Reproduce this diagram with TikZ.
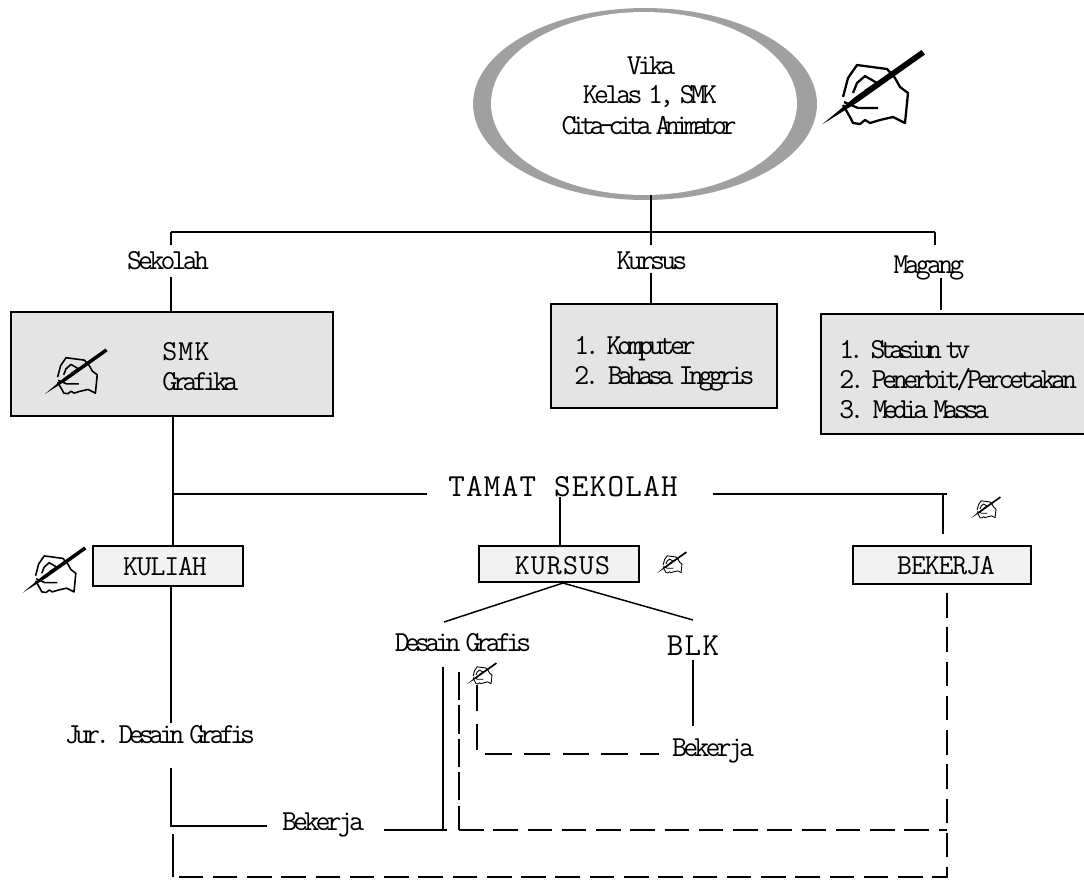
\documentclass[tikz,border=0pt]{standalone}
\usepackage{fontspec}
\setmainfont{Latin Modern Mono}
\newfontfamily\baseface[LetterSpace=-16.5,WordSpace=0.5]{Latin Modern Mono}
\newfontfamily\tightface[LetterSpace=-19,WordSpace=0.4]{Latin Modern Mono}
\newfontfamily\looseface[LetterSpace=-13,WordSpace=0.5]{Latin Modern Mono}
\newfontfamily\longface[LetterSpace=-15,WordSpace=0.3]{Latin Modern Mono}
\newfontfamily\wideface[LetterSpace=4]{Latin Modern Mono}
\newfontfamily\plainface[LetterSpace=-4]{Latin Modern Mono}
\usetikzlibrary{positioning,shapes.geometric}
\definecolor{ringgray}{HTML}{A0A0A0}
\definecolor{boxgray}{HTML}{E4E4E4}
\definecolor{tabgray}{HTML}{F2F2F2}

\begin{document}
\begin{tikzpicture}
    [%%%%%%%%%%%%%%%%%%%%%%%%%%%%%%
    x=0.02cm,y=-0.02cm,
    box/.style={rectangle,draw=black,line width=1pt,fill=boxgray,inner sep=0pt},
    tab/.style={box,fill=tabgray},
    label/.style={inner sep=0pt,font=\fontsize{16.5}{16.5}\baseface},
    tight/.style={inner sep=0pt,font=\fontsize{16.5}{16.5}\tightface},
    loose/.style={inner sep=0pt,font=\fontsize{16.5}{16.5}\looseface},
    long/.style={inner sep=0pt,font=\fontsize{16.5}{16.5}\longface},
    wide/.style={inner sep=0pt,font=\fontsize{16.5}{16.5}\wideface},
    plain/.style={inner sep=0pt,font=\fontsize{16.5}{16.5}\plainface},
    title/.style={inner sep=0pt,font=\fontsize{18.3}{18.3}\wideface},
    line/.style={line width=0.85pt},
    dashline/.style={line,dash pattern=on 14pt off 5.5pt},
    pics/handpen/.style={code={
        \fill (7.3,79.3) -- (40,52) -- (106.5,5) -- (110,9.5) -- (43,57) -- cycle;
        \draw[line join=round] (28,52) -- (33,33) -- (42,20) -- (72,24) -- (80,33) -- (85,42) -- (93,48)
            -- (90,78) -- (78,72) -- (65,75) -- (55,78) -- (50,75) -- (45,79) -- (38,78) -- (35,72) -- (28,60);
        \draw[line join=round] (38,48) -- (42,38) -- (50,31) -- (62,38) -- (50,46);
        \draw[line join=round] (29,57) -- (43,63) -- (63,63);
    }},
    ]%%%%%%%%%%%%%%%%%%%%%%%%%%%%%%

    \useasboundingbox (0,0) rectangle (1084,880);
    \clip (0,0) rectangle (1084,880);

    % vika
    \node[ellipse,fill=ringgray,minimum width=6.88cm,minimum height=3.84cm,inner sep=0pt] at (645,104) (vika_ring) {};
    \node[ellipse,fill=white,minimum width=6.12cm,minimum height=3.66cm,inner sep=0pt] at (644,103.5) (vika) {};
    \node[loose] at (651,66) (vika_name) {Vika};
    \node[loose] at (650,96) (vika_class) {Kelas 1, SMK};
    \node[tight] at (649,126) (vika_goal) {Cita-cita Animator};
    \pic[scale=1,line width=1.3pt] at (815,45) {handpen};

    % top branches
    \coordinate (top_left) at (171,232);
    \coordinate (top_mid) at (651,232);
    \coordinate (top_right) at (935,232);
    \draw[line] (651,195) -- (651,235);
    \draw[line,line width=1pt] (top_left) -- (top_right);

    % sekolah
    \node[loose] at (168,261) (sekolah) {Sekolah};
    \node[box,minimum width=6.44cm,minimum height=2.08cm] at (172,364) (smk) {};
    \node[wide,anchor=west] at (162,352) (smk_name) {SMK};
    \node[label,anchor=west] at (162,382) (smk_major) {Grafika};
    \pic[scale=0.61,line width=0.9pt] at (40.5,345.5) {handpen};
    \draw[line] (top_left) -- (171,245);
    \draw[line] (171,277) -- (171,311);

    % kursus
    \node[loose] at (652,261) (kursus) {Kursus};
    \node[box,minimum width=4.52cm,minimum height=2.08cm] at (664,356) (kursus_box) {};
    \node[long,anchor=west] at (574,349) (kursus_one) {1. Komputer};
    \node[label,anchor=west] at (574,379) (kursus_two) {2. Bahasa Inggris};
    \draw[line] (top_mid) -- (651,245);
    \draw[line] (651,273) -- (651,303);

    % magang
    \node[loose] at (929,268) (magang) {Magang};
    \node[box,minimum width=5.6cm,minimum height=2.4cm] at (961,374) (magang_box) {};
    \node[tight,anchor=west] at (839,350) (magang_one) {1. Stasiun tv};
    \node[long,anchor=west] at (839,380) (magang_two) {2. Penerbit/Percetakan};
    \node[label,anchor=west] at (839,410) (magang_three) {3. Media Massa};
    \draw[line] (top_right) -- (935,245);
    \draw[line] (941,278) -- (941,310);

    % tamat sekolah
    \node[title] at (563,487) (tamat) {TAMAT SEKOLAH};
    \node[tab,minimum width=3cm,minimum height=0.8cm] at (168,566) (kuliah) {};
    \node[plain] at (165,567) (kuliah_text) {KULIAH};
    \node[tab,minimum width=3.2cm,minimum height=0.72cm] at (559,564) (kursus_tab) {};
    \node[wide] at (562.5,566) (kursus_text) {KURSUS};
    \node[tab,minimum width=3.56cm,minimum height=0.76cm] at (942,565) (bekerja_tab) {};
    \node[plain] at (946,566) (bekerja_text) {BEKERJA};
    \pic[scale=0.62,line width=0.9pt] at (18.2,543.5) {handpen};
    \pic[scale=0.29,line width=0.5pt] at (655,550) {handpen};
    \pic[scale=0.29,line width=0.5pt] at (969,495) {handpen};
    \draw[line] (173,416) -- (173,546);
    \draw[line] (173,494) -- (427,494);
    \draw[line] (713,494) -- (947,494);
    \draw[line] (943,494) -- (943,534);
    \draw[line] (560,497) -- (560,546);

    % kuliah
    \node[label] at (160,735) (jurusan) {Jur. Desain Grafis};
    \node[loose] at (323,825) (bekerja_left) {Bekerja};
    \draw[line] (171,586) -- (171,723);
    \draw[line] (171,768) -- (171,826) -- (267,826);
    \draw[line] (384,830) -- (447,830);
    \draw[line] (443,667) -- (443,830);

    % kursus branches
    \node[label] at (463,643) (desain) {Desain Grafis};
    \node[title] at (693,646) (blk) {BLK};
    \node[loose] at (713,751) (bekerja_blk) {Bekerja};
    \pic[scale=0.29,line width=0.5pt] at (465,661) {handpen};
    \draw[line] (563,583) -- (444,622);
    \draw[line] (563,583) -- (693,620);
    \draw[line] (693,660) -- (693,726);

    % dashed routes
    \draw[line,dash pattern=on 15pt off 7pt] (477,685) -- (477,754) -- (659,754);
    \draw[line,dash pattern=on 16pt off 3pt] (459,672) -- (459,830);
    \draw[dashline] (459,830) -- (947,830);
    \draw[dashline] (947,593) -- (947,877) -- (173,877);
    \draw[line] (173,834) -- (173,877);

\end{tikzpicture}
\end{document}
